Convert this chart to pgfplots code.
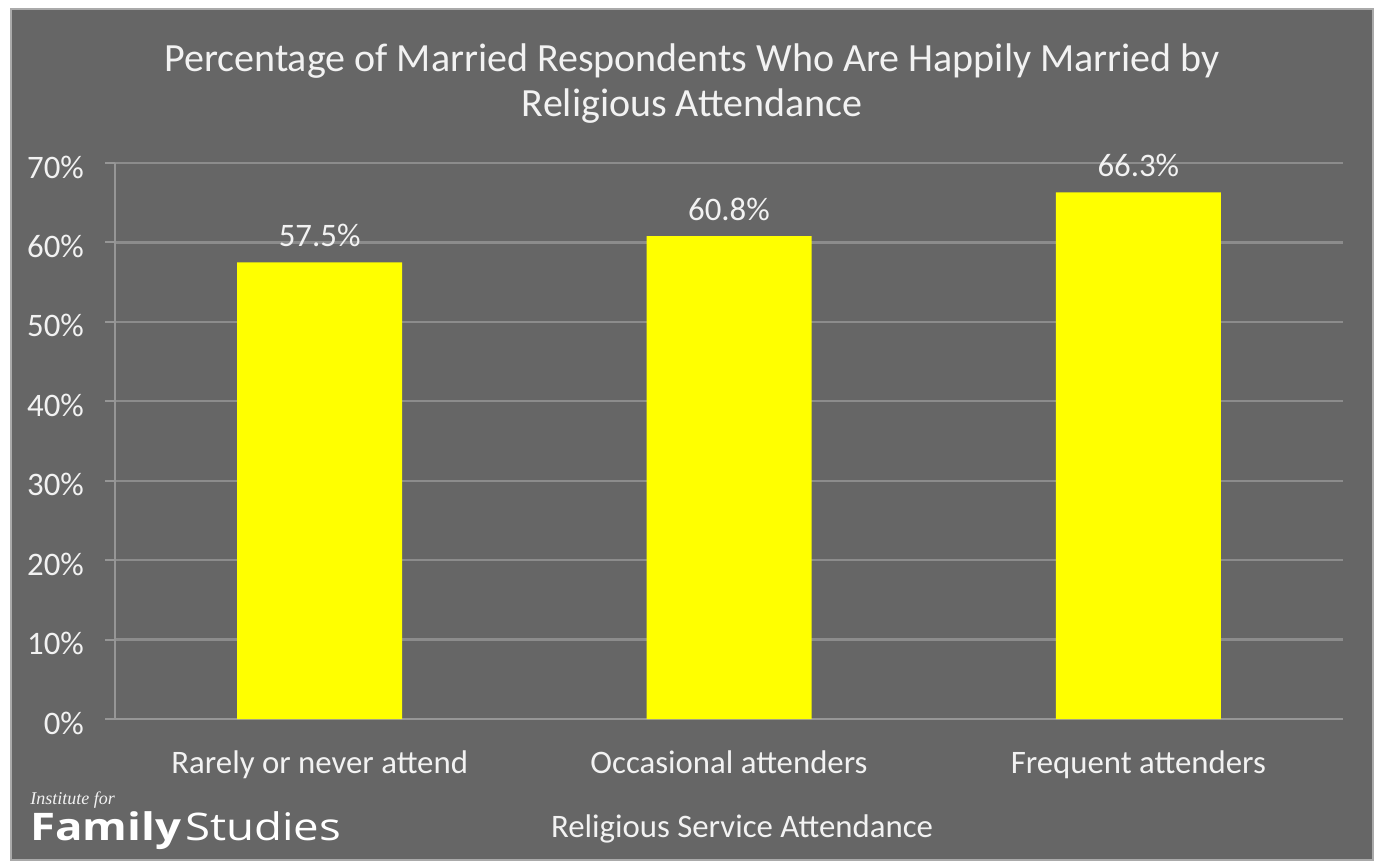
\documentclass[border=0pt]{standalone}
\usepackage{fontspec}
\setmainfont{Carlito}
\newfontfamily\opensans{Open Sans}
\newfontfamily\serifit{Liberation Serif}
\usepackage{pgfplots}
\pgfplotsset{compat=1.18}
\definecolor{bg}{RGB}{102,102,102}
\definecolor{gridc}{RGB}{140,140,140}
\definecolor{axc}{RGB}{150,150,150}
\definecolor{edgec}{RGB}{170,170,170}
\definecolor{txt}{RGB}{242,242,242}
\definecolor{bary}{RGB}{255,255,0}
\begin{document}
\begin{tikzpicture}
\useasboundingbox (0pt,0pt) rectangle (687pt,-430.5pt);
\fill[white] (0pt,0pt) rectangle (687pt,-430.5pt);
\fill[bg, draw=edgec, line width=1pt] (5.25pt,-4.75pt) rectangle (686.5pt,-430pt);
\node[anchor=base, text=txt, font=\fontsize{20}{24}\selectfont, inner sep=0pt] at (346pt,-36pt) {Percentage of Married Respondents Who Are Happily Married by};
\node[anchor=base, text=txt, font=\fontsize{20}{24}\selectfont, inner sep=0pt] at (346pt,-58.5pt) {Religious Attendance};
\begin{axis}[
  at={(57.5pt,-359.5pt)}, anchor=south west,
  scale only axis, width=614pt, height=278pt,
  xmin=-0.5, xmax=2.5, ymin=0, ymax=70,
  axis x line=bottom, axis y line=left,
  axis line style={axc, line width=1pt, -},
  ytick={0,10,...,70},
  yticklabel={\pgfmathprintnumber{\tick}\%},
  /pgf/number format/assume math mode=true,
  ymajorgrids, grid style={gridc, line width=1.1pt},
  xtick={0,1,2},
  xticklabels={Rarely or never attend, Occasional attenders, Frequent attenders},
  minor xtick={-0.5,0.5,1.5,2.5},
  tick align=outside,
  major tick length=5pt, minor tick length=5pt,
  xtick style={draw=none},
  minor x tick style={axc, line width=1pt},
  ytick style={axc, line width=1pt},
  ticklabel style={font=\fontsize{16.4}{19}\selectfont, text=txt},
  xticklabel style={anchor=base, yshift=-22pt},
  yticklabel style={xshift=-7pt, yshift=-2pt},
  clip=false,
]
\addplot[ybar, bar width=82.5pt, fill=bary, draw=none,
  nodes near coords={\pgfmathprintnumber[fixed,precision=1,fixed zerofill]{\pgfplotspointmeta}\%},
  every node near coord/.style={anchor=base, yshift=8pt, font=\fontsize{16.4}{19}\selectfont, text=txt}]
  coordinates {(0,57.5) (1,60.8) (2,66.3)};
\end{axis}
\node[anchor=base, text=txt, font=\fontsize{16.4}{19}\selectfont, inner sep=0pt] at (371pt,-418.5pt) {Religious Service Attendance};
\node[anchor=base west, text=txt, font=\serifit\itshape\fontsize{9}{10}\selectfont, inner sep=0pt] at (15pt,-402pt) {Institute for};
\node[anchor=base west, text=white, inner sep=0pt] at (15pt,-420pt) {\scalebox{1.2}[1]{\opensans\fontsize{19}{22}\selectfont\bfseries Family\hspace{1.5pt}\mdseries Studies}};
\end{tikzpicture}
\end{document}
